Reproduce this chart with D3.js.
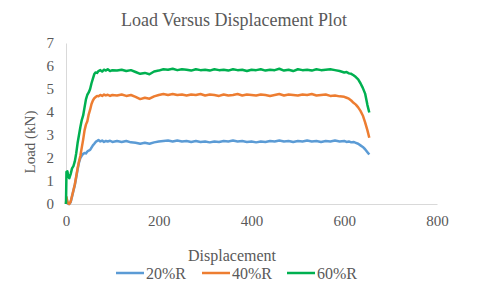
<!DOCTYPE html>
<html><head><meta charset="utf-8">
<script src="https://cdn.jsdelivr.net/npm/d3@7"></script>
<style>body{margin:0;background:#fff}svg{display:block}text{font-family:"Liberation Serif","Times New Roman",serif;fill:#595959}</style>
</head><body><svg id="c" width="480" height="291"></svg>
<script>
const seriesNames = ["20%R","40%R","60%R"];
const colors = ["#5B9BD5","#ED7D31","#00B050"];
const xTicks = [0,200,400,600,800];
const yTicks = [0,1,2,3,4,5,6,7];
const disp = [0,1,3,5,7,10,13,16,19,22,25,28,31,34,37,40,43,46,49,52,55,58,61,64,67,70,74,78,82,86,90,95,100,
110,120,130,140,150,160,170,180,190,200,210,220,230,240,250,260,270,280,290,300,310,320,330,340,350,360,370,380,390,400,
410,420,430,440,450,460,470,480,490,500,510,520,530,540,550,560,570,580,590,600,
605,610,615,620,625,630,635,640,645,650,654];
const load20 = [0,0.25,0.08,0.0,0.0,0.08,0.32,0.58,0.82,1.15,1.50,1.80,2.00,2.10,2.18,2.22,2.20,2.28,2.32,2.35,2.45,2.55,2.62,2.70,2.74,2.78,2.72,2.76,2.70,2.74,2.72,2.75,2.70,
2.74,2.70,2.74,2.68,2.66,2.62,2.66,2.62,2.68,2.72,2.74,2.76,2.72,2.76,2.72,2.74,2.70,2.74,2.70,2.72,2.68,2.72,2.70,2.74,2.72,2.76,2.72,2.74,2.70,2.72,
2.68,2.72,2.70,2.74,2.72,2.76,2.72,2.74,2.70,2.74,2.72,2.76,2.72,2.74,2.70,2.74,2.72,2.76,2.72,2.74,
2.70,2.72,2.68,2.70,2.66,2.62,2.55,2.48,2.38,2.25,2.15];
const load40 = [0,0.30,0.10,0.02,0.00,0.10,0.35,0.60,0.85,1.20,1.55,1.85,2.10,2.45,2.80,3.20,3.45,3.60,3.90,4.10,4.35,4.50,4.60,4.65,4.70,4.68,4.74,4.70,4.76,4.72,4.75,4.70,4.74,
4.72,4.76,4.70,4.74,4.66,4.56,4.62,4.58,4.68,4.74,4.78,4.74,4.78,4.74,4.76,4.72,4.76,4.74,4.78,4.72,4.76,4.74,4.70,4.76,4.72,4.74,4.78,4.72,4.76,4.74,
4.72,4.76,4.74,4.70,4.74,4.78,4.72,4.76,4.74,4.72,4.76,4.74,4.78,4.72,4.74,4.76,4.70,4.72,4.68,4.66,
4.62,4.58,4.50,4.40,4.32,4.20,4.05,3.85,3.55,3.20,2.88];
const load60 = [0,1.40,1.42,1.20,1.12,1.30,1.55,1.65,1.85,2.20,2.65,3.00,3.35,3.65,3.85,4.20,4.55,4.75,4.85,5.00,5.25,5.45,5.65,5.72,5.70,5.78,5.82,5.76,5.84,5.80,5.86,5.78,5.82,
5.80,5.84,5.78,5.82,5.74,5.66,5.70,5.64,5.76,5.80,5.86,5.84,5.88,5.82,5.86,5.84,5.80,5.86,5.82,5.84,5.80,5.86,5.82,5.84,5.80,5.86,5.82,5.84,5.78,5.84,
5.82,5.86,5.80,5.84,5.82,5.88,5.80,5.84,5.78,5.86,5.82,5.84,5.80,5.86,5.82,5.84,5.86,5.82,5.78,5.72,
5.74,5.68,5.66,5.60,5.52,5.42,5.25,5.05,4.80,4.30,3.98];
const allLoads = [load20, load40, load60];

const svg = d3.select("#c");
const x = d3.scaleLinear().domain([0,800]).range([66,437]);
const y = d3.scaleLinear().domain([0,7]).range([204,43]);

svg.append("text").attr("x",234).attr("y",26).attr("text-anchor","middle").style("font-size","18px").text("Load Versus Displacement Plot");

const yAxis = svg.append("g").attr("transform","translate(66,0)")
  .call(d3.axisLeft(y).tickValues(yTicks).tickSize(0).tickPadding(12).tickFormat(d3.format("d")));
yAxis.select(".domain").attr("stroke","#d9d9d9");
yAxis.selectAll("text").style("font-size","15px").style("font-family","Liberation Serif").attr("fill","#595959");
const xAxis = svg.append("g").attr("transform","translate(0,204)")
  .call(d3.axisBottom(x).tickValues(xTicks).tickSize(0).tickPadding(11).tickFormat(d3.format("d")));
xAxis.select(".domain").attr("stroke","#d9d9d9");
xAxis.selectAll("text").style("font-size","15px").style("font-family","Liberation Serif").attr("fill","#595959");

const line = d3.line().x((d,i)=>x(disp[i])).y(d=>y(d));
allLoads.forEach((ld,k)=>{
  svg.append("path").datum(ld).attr("d",line).attr("fill","none")
    .attr("stroke",colors[k]).attr("stroke-width",2.5).attr("stroke-linejoin","round");
});

svg.append("text").attr("transform","translate(35,142) rotate(-90)").attr("text-anchor","middle").style("font-size","15px").text("Load (kN)");
svg.append("text").attr("x",232).attr("y",261).attr("text-anchor","middle").style("font-size","16px").text("Displacement");

const legX = [116,202,287];
seriesNames.forEach((n,k)=>{
  svg.append("line").attr("x1",legX[k]).attr("x2",legX[k]+28).attr("y1",273).attr("y2",273).attr("stroke",colors[k]).attr("stroke-width",2.5);
  svg.append("text").attr("x",legX[k]+30).attr("y",278.5).style("font-size","16px").text(n);
});
</script></body></html>
